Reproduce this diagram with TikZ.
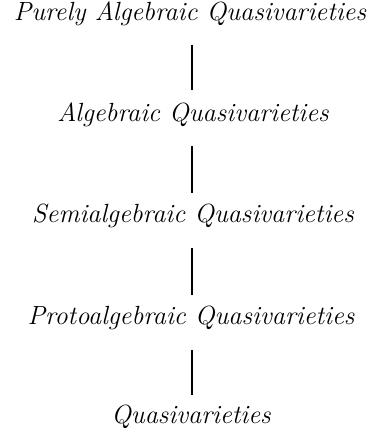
\documentclass[tikz,border=0pt]{standalone}
\begin{document}
\begin{tikzpicture}[x=1pt,y=-1pt,
  cls/.style={anchor=base,inner sep=0pt,font=\fontsize{26.3}{31}\selectfont\itshape},
  link/.style={line width=2.5pt}]
\useasboundingbox (0,0) rectangle (375,438);
\node[cls] (pa) at (190,21) {Purely Algebraic Quasivarieties};
\node[cls] (a) at (193,122) {Algebraic Quasivarieties};
\node[cls] (s) at (193,222) {Semialgebraic Quasivarieties};
\node[cls] (p) at (191,324) {Protoalgebraic Quasivarieties};
\node[cls] (q) at (191,423) {Quasivarieties};
\coordinate (l1a) at (192,45); \coordinate (l1b) at (192,90);
\coordinate (l2a) at (192,146); \coordinate (l2b) at (192,193);
\coordinate (l3a) at (192,248); \coordinate (l3b) at (192,295);
\coordinate (l4a) at (192,350); \coordinate (l4b) at (192,395);
\draw[link] (l1a) -- (l1b);
\draw[link] (l2a) -- (l2b);
\draw[link] (l3a) -- (l3b);
\draw[link] (l4a) -- (l4b);
\end{tikzpicture}
\end{document}
